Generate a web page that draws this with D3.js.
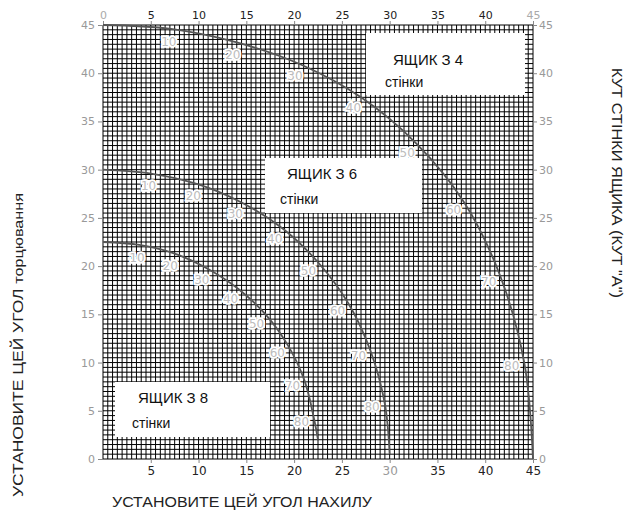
<!DOCTYPE html>
<html>
<head>
<meta charset="utf-8">
<title>compound miter chart</title>
<style>
body { margin: 0; background: #fff; }
svg { display: block; }
.tick text { font-family: "DejaVu Sans", sans-serif; }
.curve { fill: none; stroke: #555; stroke-width: 1.8px; }
.clabel { font-family: "DejaVu Sans", sans-serif; font-size: 12px; fill: #bcbcbc;
  stroke: #fff; stroke-width: 3.5px; paint-order: stroke; text-anchor: middle; dominant-baseline: central; }
.boxtext { font-family: "Liberation Sans", Arial, sans-serif; fill: #111; }
.title { font-family: "Liberation Sans", Arial, sans-serif; font-size: 14px; fill: #222; }
</style>
</head>
<body>
<script src="https://cdn.jsdelivr.net/npm/d3@7"></script>
<script>
// side tilt angles marked along each curve
var tiltAngles = [0, 10, 20, 30, 40, 50, 60, 70, 80, 90];

// bevel (x) and miter (y)
var box4Bevel = [0, 7.1, 14.0, 20.7, 27.0, 32.8, 37.8, 41.6, 44.1, 45];
var box4Miter = [45, 44.6, 43.2, 40.9, 37.5, 32.7, 26.6, 18.9, 9.9, 0];
var box6Bevel = [0, 5.0, 9.9, 14.5, 18.8, 22.5, 25.7, 28.0, 29.5, 30];
var box6Miter = [30, 29.6, 28.5, 26.6, 23.9, 20.4, 16.1, 11.2, 5.7, 0.5];
var box8Bevel = [0, 3.8, 7.5, 11.0, 14.2, 17.1, 19.4, 21.1, 22.1, 22.5];
var box8Miter = [22.5, 22.2, 21.3, 19.7, 17.6, 14.9, 11.7, 8.1, 4.1, 2.0];

var axisTicks = [0, 5, 10, 15, 20, 25, 30, 35, 40, 45];
var boxNames = ["ЯЩИК З 4", "ЯЩИК З 6", "ЯЩИК З 8"];
var boxSub = "стінки";

var W = 627, H = 516;
var svg = d3.select("body").append("svg").attr("width", W).attr("height", H);

var x = d3.scaleLinear().domain([0, 45]).range([103, 533]);
var y = d3.scaleLinear().domain([0, 45]).range([459, 25]);

// fine grid every half degree
var gridVals = d3.range(0, 45.001, 0.5);
var grid = svg.append("g").attr("stroke", "#000").attr("stroke-width", 1);
grid.selectAll(".v").data(gridVals).enter().append("line")
    .attr("x1", function(d) { return x(d); }).attr("x2", function(d) { return x(d); })
    .attr("y1", y(45)).attr("y2", y(0));
grid.selectAll(".h").data(gridVals).enter().append("line")
    .attr("y1", function(d) { return y(d); }).attr("y2", function(d) { return y(d); })
    .attr("x1", x(0)).attr("x2", x(45));

// axes
function styleAxis(g, size, colorFn) {
    g.select(".domain").remove();
    g.selectAll(".tick line").attr("stroke", "#888");
    g.selectAll(".tick text").attr("font-size", size).attr("fill", colorFn);
}
var topAx = svg.append("g").attr("transform", "translate(0," + y(45) + ")")
    .call(d3.axisTop(x).tickValues(axisTicks).tickSize(4).tickPadding(2));
styleAxis(topAx, 11, function(d) { return (d === 0 || d === 45) ? "#aaa" : "#222"; });

var botAx = svg.append("g").attr("transform", "translate(0," + y(0) + ")")
    .call(d3.axisBottom(x).tickValues(axisTicks.slice(1)).tickSize(4).tickPadding(3));
styleAxis(botAx, 12, function(d) { return d === 30 ? "#999" : "#222"; });

var leftAx = svg.append("g").attr("transform", "translate(" + x(0) + ",0)")
    .call(d3.axisLeft(y).tickValues(axisTicks).tickSize(5).tickPadding(3));
styleAxis(leftAx, 11, "#999");

var rightAx = svg.append("g").attr("transform", "translate(" + x(45) + ",0)")
    .call(d3.axisRight(y).tickValues(axisTicks).tickSize(4).tickPadding(2));
styleAxis(rightAx, 11, "#999");

// white label boxes
var boxes = [
    {name: boxNames[0], x0: 366, y0: 33, x1: 525, y1: 95, tx: 393, ty: 65, sx: 385, sy: 87},
    {name: boxNames[1], x0: 265, y0: 158, x1: 422, y1: 213, tx: 287, ty: 179, sx: 280, sy: 204},
    {name: boxNames[2], x0: 115, y0: 382, x1: 270, y1: 437, tx: 138, ty: 403, sx: 132, sy: 428}
];
boxes.forEach(function(b) {
    svg.append("rect").attr("x", b.x0).attr("y", b.y0)
        .attr("width", b.x1 - b.x0).attr("height", b.y1 - b.y0).attr("fill", "#fff");
    svg.append("text").attr("class", "boxtext").attr("x", b.tx).attr("y", b.ty)
        .attr("font-size", 15).text(b.name);
    svg.append("text").attr("class", "boxtext").attr("x", b.sx).attr("y", b.sy)
        .attr("font-size", 14).text(boxSub);
});

// curves with tilt angle labels
var line = d3.line()
    .x(function(d) { return x(d.b); })
    .y(function(d) { return y(d.m); })
    .curve(d3.curveCatmullRom);

[[box4Bevel, box4Miter], [box6Bevel, box6Miter], [box8Bevel, box8Miter]].forEach(function(s) {
    var pts = tiltAngles.map(function(a, i) { return {a: a, b: s[0][i], m: s[1][i]}; });
    svg.append("path").attr("class", "curve").attr("d", line(pts));
    var ox = x(0), oy = y(0);
    svg.selectAll(null).data(pts.filter(function(p) { return p.a > 0 && p.a < 90; }))
        .enter().append("text").attr("class", "clabel")
        .attr("x", function(p) {
            var dx = x(p.b) - ox, dy = y(p.m) - oy, r = Math.sqrt(dx * dx + dy * dy);
            return x(p.b) - 13 * dx / r;
        })
        .attr("y", function(p) {
            var dx = x(p.b) - ox, dy = y(p.m) - oy, r = Math.sqrt(dx * dx + dy * dy);
            return y(p.m) - 13 * dy / r;
        })
        .text(function(p) { return p.a; });
});

// axis titles
var lt = svg.append("text").attr("class", "title")
    .attr("transform", "translate(23,345) rotate(-90)").attr("text-anchor", "middle")
    .attr("textLength", 304).attr("lengthAdjust", "spacingAndGlyphs");
lt.append("tspan").text("УСТАНОВИТЕ ЦЕЙ УГОЛ ");
lt.append("tspan").attr("font-size", 13).text("торцювання");

svg.append("text").attr("class", "title")
    .attr("transform", "translate(612,183) rotate(90)").attr("text-anchor", "middle")
    .attr("textLength", 230).attr("lengthAdjust", "spacingAndGlyphs")
    .text("КУТ СТІНКИ ЯЩИКА (КУТ \"А\")");

svg.append("text").attr("class", "title")
    .attr("x", 242).attr("y", 507).attr("text-anchor", "middle")
    .attr("textLength", 260).attr("lengthAdjust", "spacingAndGlyphs")
    .text("УСТАНОВИТЕ ЦЕЙ УГОЛ НАХИЛУ");
</script>
</body>
</html>
